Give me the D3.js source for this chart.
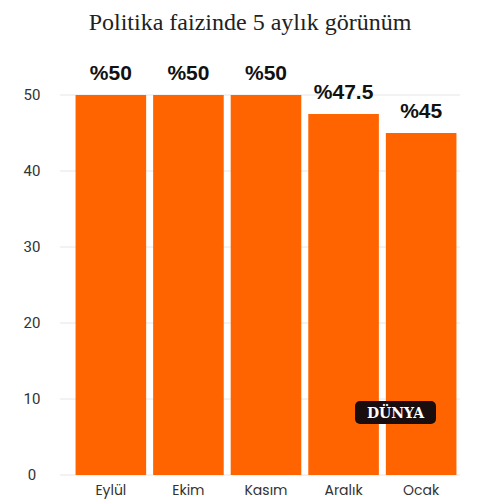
<!DOCTYPE html>
<html><head><meta charset="utf-8">
<script src="https://cdn.jsdelivr.net/npm/d3@7"></script>
<style>body{margin:0;background:#fff}</style>
</head><body>
<script>
// chart values
const months = ['Eylül', 'Ekim', 'Kasım', 'Aralık', 'Ocak'];
const rates = [50, 50, 50, 47.5, 45];
const rateLabels = ['%50', '%50', '%50', '%47.5', '%45'];
const yTicks = [0, 10, 20, 30, 40, 50];

const svg = d3.select('body').append('svg').attr('width', 500).attr('height', 500);

svg.append('text').attr('x', 250).attr('y', 30).attr('text-anchor', 'middle')
    .style('font-family', 'Liberation Serif, serif').style('font-size', '24px').attr('fill', '#222')
    .text('Politika faizinde 5 aylık görünüm');

const x = d3.scaleBand().domain(months).range([74, 458]).paddingInner(0.09).paddingOuter(0.02);
const y = d3.scaleLinear().domain([0, 50]).range([475, 95]);

svg.append('g').selectAll('line').data(yTicks).join('line')
    .attr('x1', 60).attr('x2', 460).attr('y1', d => y(d)).attr('y2', d => y(d))
    .attr('stroke', '#e6e6e6');

svg.append('g').selectAll('text').data(yTicks).join('text')
    .attr('x', 32).attr('y', d => y(d) + 5).attr('text-anchor', 'middle')
    .style('font-family', 'Roboto, sans-serif').style('font-size', '15px').attr('fill', '#333')
    .text(d => d);

svg.append('g').selectAll('rect').data(rates).join('rect')
    .attr('x', (d, i) => x(months[i])).attr('width', x.bandwidth())
    .attr('y', d => y(d)).attr('height', d => y(0) - y(d)).attr('fill', '#ff6400');

svg.append('g').selectAll('text').data(rates).join('text')
    .attr('x', (d, i) => x(months[i]) + x.bandwidth() / 2).attr('y', d => y(d) - 15)
    .attr('text-anchor', 'middle').style('font-family', 'Liberation Sans, Arial, sans-serif')
    .style('font-size', '21px').style('font-weight', 'bold').attr('fill', '#111')
    .text((d, i) => rateLabels[i]);

svg.append('g').selectAll('text').data(months).join('text')
    .attr('x', d => x(d) + x.bandwidth() / 2).attr('y', 495).attr('text-anchor', 'middle')
    .style('font-family', 'Poppins, Roboto, sans-serif').style('font-size', '14px').attr('fill', '#333')
    .text(d => d);

const logo = svg.append('g');
logo.append('rect').attr('x', 355).attr('y', 401).attr('width', 81).attr('height', 23).attr('rx', 5).attr('fill', '#1a0d0d');
logo.append('text').attr('x', 395.5).attr('y', 418).attr('text-anchor', 'middle')
    .style('font-family', 'DejaVu Serif, serif').style('font-weight', 'bold').style('font-size', '14px')
    .attr('fill', '#fff').text('DÜNYA');
</script>
</body></html>
